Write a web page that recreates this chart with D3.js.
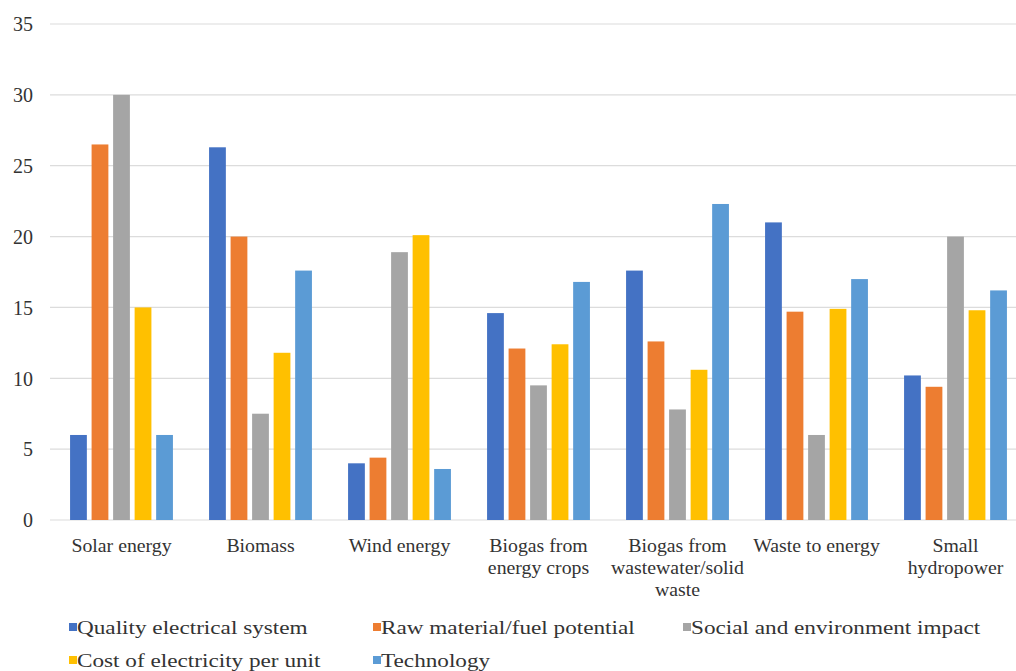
<!DOCTYPE html>
<html><head><meta charset="utf-8">
<script src="https://cdn.jsdelivr.net/npm/d3@7"></script>
</head><body style="margin:0;background:#fff"><svg id="c" width="1016" height="671" style="display:block"></svg>
<script>
const categories = [["Solar energy"],["Biomass"],["Wind energy"],["Biogas from","energy crops"],["Biogas from","wastewater/solid","waste"],["Waste to energy"],["Small","hydropower"]];
const seriesNames = ["Quality electrical system","Raw material/fuel potential","Social and environment impact","Cost of electricity per unit","Technology"];
const seriesColors = ["#4472C4","#ED7D31","#A5A5A5","#FFC000","#5B9BD5"];
const quality = [6.0, 26.3, 4.0, 14.6, 17.6, 21.0, 10.2];
const rawMaterial = [26.5, 20.0, 4.4, 12.1, 12.6, 14.7, 9.4];
const social = [30.0, 7.5, 18.9, 9.5, 7.8, 6.0, 20.0];
const cost = [15.0, 11.8, 20.1, 12.4, 10.6, 14.9, 14.8];
const technology = [6.0, 17.6, 3.6, 16.8, 22.3, 17.0, 16.2];
const yTicks = [0,5,10,15,20,25,30,35];

const FONT = "'Liberation Serif'";
const series = [quality, rawMaterial, social, cost, technology];
const svg = d3.select("#c");
const catKeys = categories.map((c,i)=>i);
const x0 = d3.scaleBand().domain(catKeys).range([52,1025]).paddingInner(0.26).paddingOuter(0.13);
const x1 = d3.scaleBand().domain(d3.range(series.length)).range([0,x0.bandwidth()]).paddingInner(0.22);
const y = d3.scaleLinear().domain([0,35]).range([520,24]);

// gridlines
svg.append("g").selectAll("line").data(yTicks).join("line")
  .attr("x1",50).attr("x2",1016).attr("y1",d=>y(d)).attr("y2",d=>y(d))
  .attr("stroke","#dcdcdc").attr("stroke-width",1.2);

// y axis labels
const yAxis = d3.axisLeft(y).tickValues(yTicks).tickSize(0).tickPadding(0);
const ya = svg.append("g").attr("transform","translate(33,0)").call(yAxis);
ya.select(".domain").remove();
ya.selectAll("text").style("font-family",FONT).style("font-size","20px").style("fill","#333").attr("dy","0.34em");

// bars
const groups = svg.append("g").selectAll("g").data(catKeys).join("g")
  .attr("transform",d=>`translate(${x0(d)},0)`);
groups.selectAll("rect").data(ci=>series.map((s,si)=>({si,v:s[ci]}))).join("rect")
  .attr("x",d=>x1(d.si)).attr("width",x1.bandwidth())
  .attr("y",d=>y(d.v)).attr("height",d=>y(0)-y(d.v))
  .attr("fill",d=>seriesColors[d.si]);

// category labels
const xl = svg.append("g").selectAll("g").data(catKeys).join("g")
  .attr("transform",d=>`translate(${x0(d)+x0.bandwidth()/2},552) scale(1.1,1)`);
xl.selectAll("text").data(d=>categories[d]).join("text")
  .style("font-family",FONT).style("font-size","18px").style("fill","#333")
  .attr("y",(d,i)=>i*22).attr("text-anchor","middle").text(d=>d);

// legend
const legPos = [[69,627],[373,627],[683,627],[69,660],[373,660]];
const lg = svg.append("g").selectAll("g").data(seriesNames).join("g")
  .attr("transform",(d,i)=>`translate(${legPos[i][0]},${legPos[i][1]})`);
lg.append("rect").attr("x",0).attr("y",-4).attr("width",8).attr("height",8).attr("fill",(d,i)=>seriesColors[i]);
lg.append("text").attr("x",0).attr("y",0).attr("dy","0.35em")
  .style("font-family",FONT).style("font-size","19.5px").style("fill","#333")
  .attr("transform","translate(8,0) scale(1.19,1)").text(d=>d);
</script></body></html>
